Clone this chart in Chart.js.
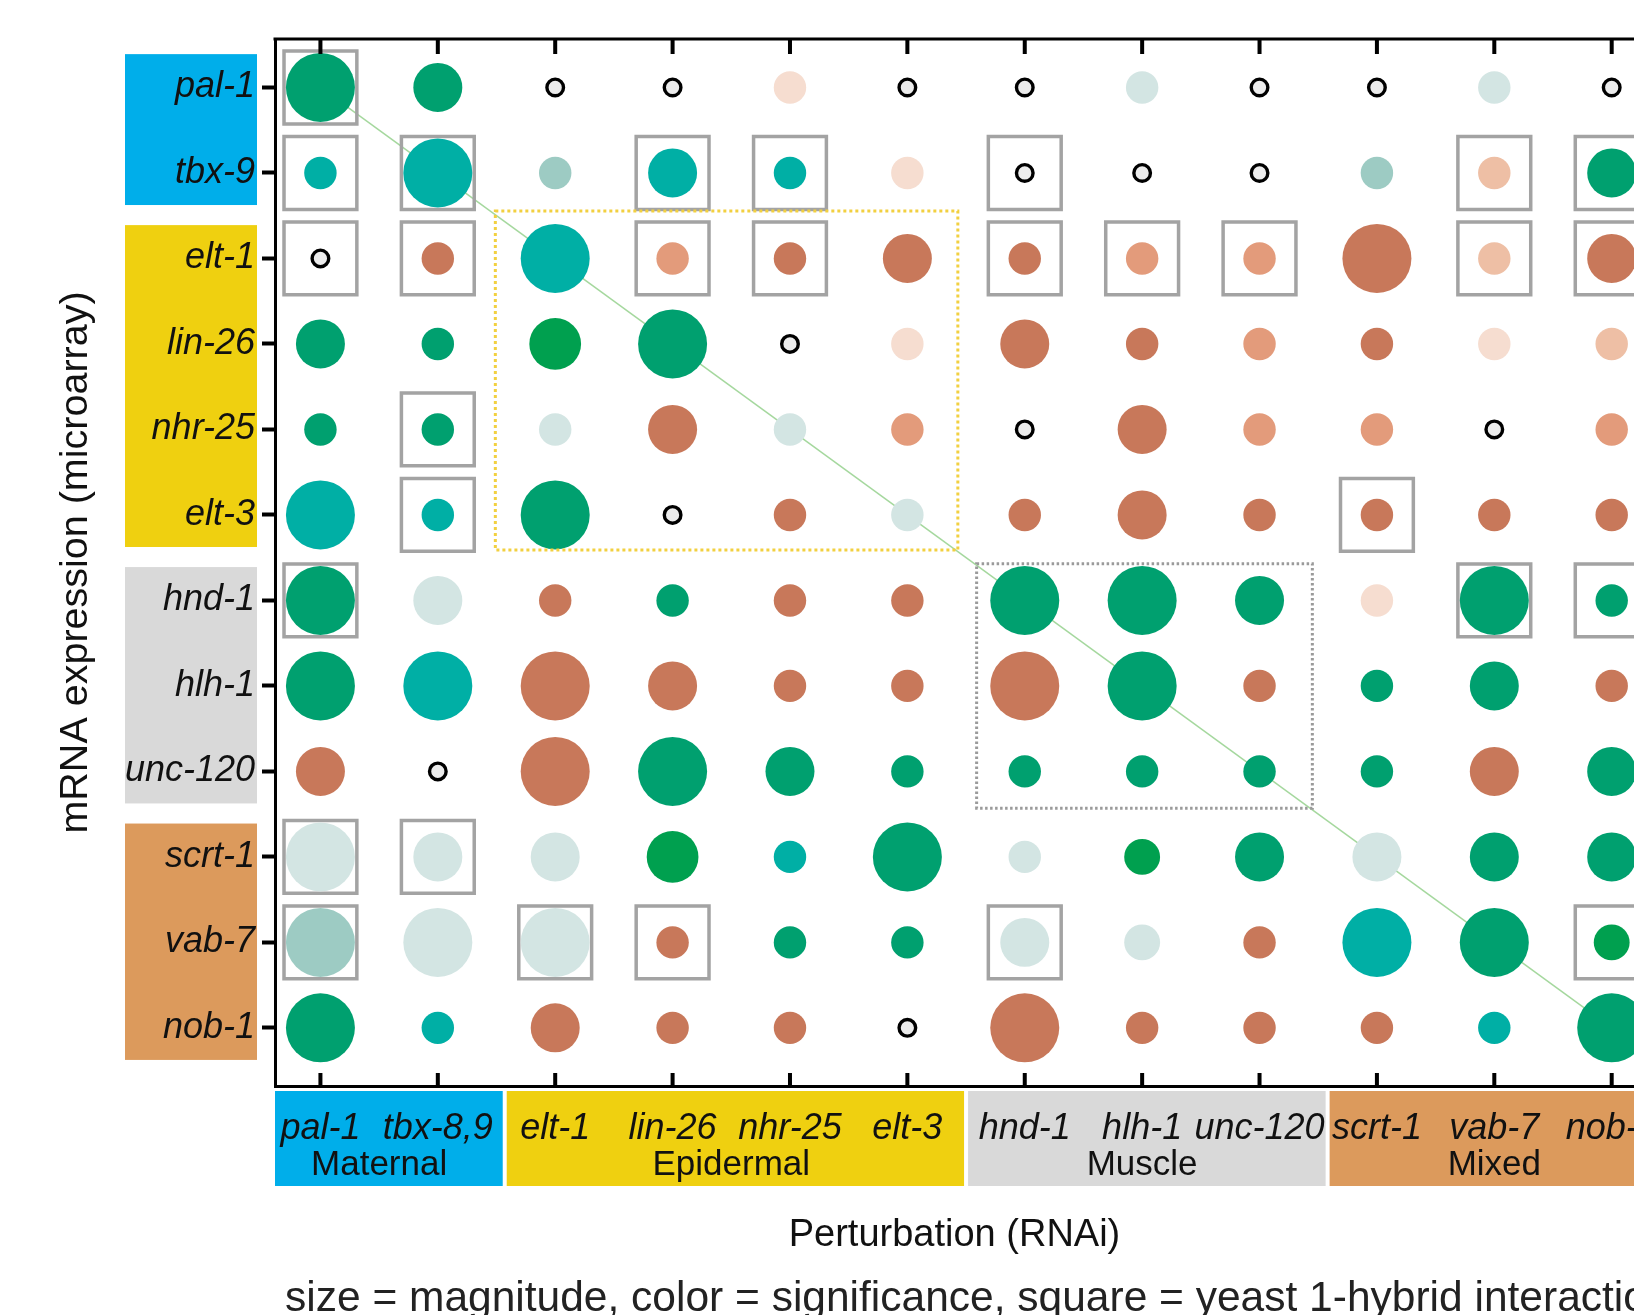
<!DOCTYPE html>
<html>
<head>
<meta charset="utf-8">
<script src="https://cdn.jsdelivr.net/npm/chart.js@4.4.1/dist/chart.umd.min.js"></script>
<style>
  html, body { margin: 0; padding: 0; background: #fff; overflow: hidden; }
  canvas { display: block; }
</style>
</head>
<body>
<canvas id="grnChart" width="1634" height="1315"></canvas>
<script>
// columns = RNAi perturbation, rows = gene measured by microarray
const perturbations = ['pal-1', 'tbx-8,9', 'elt-1', 'lin-26', 'nhr-25', 'elt-3', 'hnd-1', 'hlh-1', 'unc-120', 'scrt-1', 'vab-7', 'nob-1'];
const genes = ['pal-1', 'tbx-9', 'elt-1', 'lin-26', 'nhr-25', 'elt-3', 'hnd-1', 'hlh-1', 'unc-120', 'scrt-1', 'vab-7', 'nob-1'];
const groupNames = ['Maternal', 'Epidermal', 'Muscle', 'Mixed'];
const groupSizes = [2, 4, 3, 3];

// significance: 5 strong green .. 1 pale, -1 pale peach .. -4 dark, 0 = not detected (open ring)
const significance = [
  [ 4,  4,  0,  0, -1,  0,  0,  1,  0,  0,  1,  0],
  [ 3,  3,  2,  3,  3, -1,  0,  0,  0,  2, -2,  4],
  [ 0, -4,  3, -3, -4, -4, -4, -3, -3, -4, -2, -4],
  [ 4,  4,  5,  4,  0, -1, -4, -4, -3, -4, -1, -2],
  [ 4,  4,  1, -4,  1, -3,  0, -4, -3, -3,  0, -3],
  [ 3,  3,  4,  0, -4,  1, -4, -4, -4, -4, -4, -4],
  [ 4,  1, -4,  4, -4, -4,  4,  4,  4, -1,  4,  4],
  [ 4,  3, -4, -4, -4, -4, -4,  4, -4,  4,  4, -4],
  [-4,  0, -4,  4,  4,  4,  4,  4,  4,  4, -4,  4],
  [ 1,  1,  1,  5,  3,  4,  1,  5,  4,  1,  4,  4],
  [ 2,  1,  1, -4,  4,  4,  1,  1, -4,  3,  4,  5],
  [ 4,  3, -4, -4, -4,  0, -4, -4, -4, -4,  3,  4]
];

// relative magnitude of the expression change
const magnitude = [
  [1.00, 0.71, 0,    0,    0.47, 0,    0,    0.47, 0,    0,    0.47, 0   ],
  [0.47, 1.00, 0.47, 0.71, 0.47, 0.47, 0,    0,    0,    0.47, 0.47, 0.71],
  [0,    0.47, 1.00, 0.47, 0.47, 0.71, 0.47, 0.47, 0.47, 1.00, 0.47, 0.71],
  [0.71, 0.47, 0.75, 1.00, 0,    0.47, 0.71, 0.47, 0.47, 0.47, 0.47, 0.47],
  [0.47, 0.47, 0.47, 0.71, 0.47, 0.47, 0,    0.71, 0.47, 0.47, 0,    0.47],
  [1.00, 0.47, 1.00, 0,    0.47, 0.47, 0.47, 0.71, 0.47, 0.47, 0.47, 0.47],
  [1.00, 0.71, 0.47, 0.47, 0.47, 0.47, 1.00, 1.00, 0.71, 0.47, 1.00, 0.47],
  [1.00, 1.00, 1.00, 0.71, 0.47, 0.47, 1.00, 1.00, 0.47, 0.47, 0.71, 0.47],
  [0.71, 0,    1.00, 1.00, 0.71, 0.47, 0.47, 0.47, 0.47, 0.47, 0.71, 0.71],
  [1.00, 0.71, 0.71, 0.75, 0.47, 1.00, 0.47, 0.52, 0.71, 0.71, 0.71, 0.71],
  [1.00, 1.00, 1.00, 0.47, 0.47, 0.47, 0.71, 0.52, 0.47, 1.00, 1.00, 0.52],
  [1.00, 0.47, 0.71, 0.47, 0.47, 0,    1.00, 0.47, 0.47, 0.47, 0.47, 1.00]
];

// yeast 1-hybrid interaction (drawn as a square)
const y1h = [
  [1, 0, 0, 0, 0, 0, 0, 0, 0, 0, 0, 0],
  [1, 1, 0, 1, 1, 0, 1, 0, 0, 0, 1, 1],
  [1, 1, 0, 1, 1, 0, 1, 1, 1, 0, 1, 1],
  [0, 0, 0, 0, 0, 0, 0, 0, 0, 0, 0, 0],
  [0, 1, 0, 0, 0, 0, 0, 0, 0, 0, 0, 0],
  [0, 1, 0, 0, 0, 0, 0, 0, 0, 1, 0, 0],
  [1, 0, 0, 0, 0, 0, 0, 0, 0, 0, 1, 1],
  [0, 0, 0, 0, 0, 0, 0, 0, 0, 0, 0, 0],
  [0, 0, 0, 0, 0, 0, 0, 0, 0, 0, 0, 0],
  [1, 1, 0, 0, 0, 0, 0, 0, 0, 0, 0, 0],
  [1, 0, 1, 1, 0, 0, 1, 0, 0, 0, 0, 1],
  [0, 0, 0, 0, 0, 0, 0, 0, 0, 0, 0, 0]
];

const FONT = "'Liberation Sans', Arial, Helvetica, sans-serif";
const groupColors = ['#00aeea', '#efd010', '#d9d9d9', '#dc9a5c'];
const sigColors = {
  '5': '#00a04f', '4': '#00a06f', '3': '#00afa5', '2': '#9dcbc3', '1': '#d3e5e3',
  '-1': '#f6ddd0', '-2': '#eebfa5', '-3': '#e39b7b', '-4': '#c8785a'
};

const bubbles = [];
const squares = [];
genes.forEach((g, row) => {
  perturbations.forEach((p, col) => {
    bubbles.push({ x: col, y: row, m: magnitude[row][col], s: significance[row][col] });
    if (y1h[row][col]) squares.push({ x: col, y: row });
  });
});

// index ranges of each group
const groupRanges = [];
let start = 0;
groupSizes.forEach(n => { groupRanges.push([start, start + n - 1]); start += n; });

const decor = {
  id: 'decor',
  beforeDraw(chart) {
    const { ctx, chartArea: a, scales: { x, y } } = chart;
    ctx.save();
    ctx.fillStyle = '#fff';
    ctx.fillRect(0, 0, chart.width, chart.height);

    // row group bands on the left
    groupRanges.forEach(([s, e], i) => {
      const top = y.getPixelForValue(s - 0.39);
      const bot = y.getPixelForValue(e + 0.375);
      ctx.fillStyle = groupColors[i];
      ctx.fillRect(125, top, 132, bot - top);
    });

    // column group bands below the axis
    const edges = [x.min, 1.57, 5.5, 8.58, x.max + 1];
    groupRanges.forEach((r, i) => {
      const l = x.getPixelForValue(edges[i]) + (i ? 2 : 0);
      const rr = x.getPixelForValue(edges[i + 1]) - 2;
      ctx.fillStyle = groupColors[i];
      ctx.fillRect(l, a.bottom + 5, rr - l, 95);
    });
    ctx.restore();
  },
  afterDatasetsDraw(chart) {
    const { ctx, chartArea: a, scales: { x, y } } = chart;
    ctx.save();
    // dotted boxes around the epidermal and muscle blocks
    const boxes = [
      { r: groupRanges[1], pad: [0.51, 0.43, 0.556, 0.41], color: '#f2d040', dash: [3, 3] },
      { r: groupRanges[2], pad: [0.41, 0.45, 0.43, 0.43], color: '#9a9a9a', dash: [2.5, 2.5] }
    ];
    boxes.forEach(b => {
      const l = x.getPixelForValue(b.r[0] - b.pad[0]);
      const rt = x.getPixelForValue(b.r[1] + b.pad[1]);
      const t = y.getPixelForValue(b.r[0] - b.pad[2]);
      const bt = y.getPixelForValue(b.r[1] + b.pad[3]);
      ctx.strokeStyle = b.color;
      ctx.lineWidth = 3;
      ctx.setLineDash(b.dash);
      ctx.strokeRect(l, t, rt - l, bt - t);
    });
    ctx.setLineDash([]);

    // top frame and inward ticks on top and bottom
    ctx.strokeStyle = '#000';
    ctx.lineWidth = 3;
    ctx.beginPath();
    ctx.moveTo(a.left - 1.5, a.top);
    ctx.lineTo(a.right, a.top);
    ctx.stroke();
    ctx.lineWidth = 4;
    perturbations.forEach((p, i) => {
      const px = x.getPixelForValue(i);
      ctx.beginPath();
      ctx.moveTo(px, a.top);
      ctx.lineTo(px, a.top + 15);
      ctx.moveTo(px, a.bottom);
      ctx.lineTo(px, a.bottom - 13);
      ctx.stroke();
    });

    // group names under the perturbation labels
    ctx.fillStyle = '#111';
    ctx.font = '35px ' + FONT;
    ctx.textAlign = 'center';
    ctx.textBaseline = 'alphabetic';
    groupRanges.forEach(([s, e], i) => {
      const cx = (x.getPixelForValue(s) + x.getPixelForValue(e)) / 2;
      ctx.fillText(groupNames[i], cx, a.bottom + 89);
    });

    // caption
    ctx.font = '42.5px ' + FONT;
    ctx.textAlign = 'left';
    ctx.fillStyle = '#222';
    ctx.fillText('size = magnitude, color = significance, square = yeast 1-hybrid interaction', 285, 1311);
    ctx.restore();
  }
};

const ctx = document.getElementById('grnChart').getContext('2d');
new Chart(ctx, {
  type: 'scatter',
  data: {
    datasets: [
      {
        // diagonal: self-regulation cells
        data: [{ x: 0, y: 0 }, { x: perturbations.length - 1, y: genes.length - 1 }],
        showLine: true,
        borderColor: '#a5d89e',
        borderWidth: 1.5,
        pointRadius: 0,
        order: 3
      },
      {
        data: squares,
        pointStyle: 'rect',
        pointRadius: 51.5,
        pointBackgroundColor: 'rgba(0,0,0,0)',
        pointBorderColor: '#a3a3a3',
        pointBorderWidth: 3.5,
        order: 2
      },
      {
        data: bubbles,
        pointRadius: c => c.raw.m ? 34.5 * c.raw.m : 8.3,
        pointBackgroundColor: c => c.raw.m ? sigColors[c.raw.s] : '#ececec',
        pointBorderColor: '#000',
        pointBorderWidth: c => c.raw.m ? 0 : 3.4,
        order: 1
      }
    ]
  },
  options: {
    responsive: false,
    animation: false,
    devicePixelRatio: 1,
    events: [],
    layout: { autoPadding: false, padding: { top: 39, left: 0, right: 0, bottom: 0 } },
    plugins: { legend: { display: false }, tooltip: { enabled: false } },
    scales: {
      x: {
        type: 'linear',
        min: -0.387,
        max: 11.19,
        afterBuildTicks: s => { s.ticks = perturbations.map((p, i) => ({ value: i })); },
        afterFit: s => { s.height = 229; s.paddingLeft = 0; s.paddingRight = 0; },
        grid: { display: false, drawTicks: false },
        border: { display: true, color: '#000', width: 3 },
        ticks: {
          autoSkip: false, maxRotation: 0, minRotation: 0, padding: 21,
          color: '#111',
          font: { family: FONT, size: 36, style: 'italic' },
          callback: v => perturbations[v]
        },
        title: {
          display: true, text: 'Perturbation (RNAi)', color: '#111',
          font: { family: FONT, size: 38 },
          padding: { top: 0, bottom: 57 }
        }
      },
      y: {
        type: 'linear',
        reverse: true,
        min: -0.567,
        max: 11.68,
        afterBuildTicks: s => { s.ticks = genes.map((g, i) => ({ value: i })); },
        afterFit: s => { s.width = 275; s.paddingTop = 0; s.paddingBottom = 0; },
        grid: { display: true, drawOnChartArea: false, drawTicks: true, tickLength: 13, tickWidth: 4, tickColor: '#000' },
        border: { display: true, color: '#000', width: 3 },
        ticks: {
          padding: 7,
          color: '#111',
          font: { family: FONT, size: 36, style: 'italic' },
          callback: v => genes[v]
        },
        title: {
          display: true, text: 'mRNA expression (microarray)', color: '#111',
          font: { family: FONT, size: 39.5 },
          padding: { top: 52, bottom: 0 }
        }
      }
    }
  },
  plugins: [decor]
});
</script>
</body>
</html>
